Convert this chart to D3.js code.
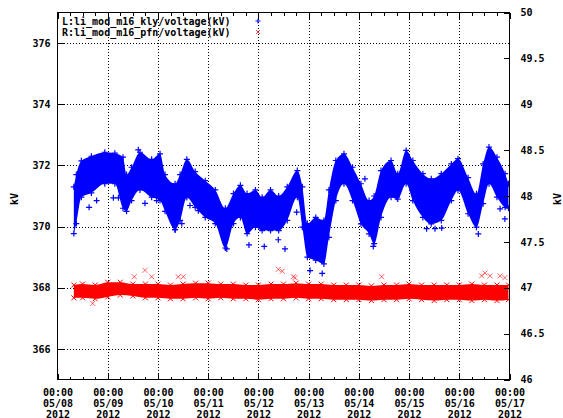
<!DOCTYPE html>
<html>
<head>
<meta charset="utf-8">
<script src="https://cdn.jsdelivr.net/npm/d3@7"></script>
<style>
body { margin: 0; background: #fff; }
text { font-family: "DejaVu Sans Mono", monospace; font-weight: bold; font-size: 10px; fill: #000; }
</style>
</head>
<body>
<svg width="563" height="418"></svg>
<script>
// hours since 05/08/2012 00:00
var klyHours = [7.8, 9.0, 11.4, 16.2, 22.6, 27.4, 31.3, 33.0, 35.4, 39.4, 45.0, 49.0, 51.4, 56.2, 58.6, 61.8, 65.8, 70.6, 75.4, 80.2, 84.1, 87.4, 90.6, 94.6, 97.8, 101.8, 105.7, 109.8, 114.6, 117.0, 119.4, 123.4, 127.3, 129.7, 133.0, 136.9, 141.0, 145.0, 148.9, 151.3, 154.6, 159.4, 162.6, 166.6, 169.8, 174.6, 178.6, 183.4, 188.2, 191.4, 196.2, 200.2, 203.4, 206.2, 210.0, 213.9, 215.5];
var klyLo = [369.77, 370.1, 370.96, 371.1, 371.4, 371.4, 370.6, 370.5, 370.85, 371.2, 370.96, 370.85, 370.5, 369.9, 370.2, 370.95, 370.63, 370.3, 370.1, 369.3, 370.1, 370.3, 369.77, 369.98, 369.87, 369.87, 369.87, 370.2, 370.96, 369.98, 369.0, 368.9, 368.78, 369.65, 370.85, 371.4, 370.85, 370.09, 369.76, 369.44, 370.3, 370.96, 370.9, 371.4, 370.85, 370.3, 370.09, 370.2, 370.85, 371.18, 370.42, 369.98, 370.75, 371.4, 370.96, 370.63, 370.6];
var klyHi = [371.3, 371.7, 372.15, 372.3, 372.43, 372.4, 372.27, 371.7, 371.94, 372.43, 372.2, 372.38, 371.7, 371.4, 371.7, 372.2, 371.8, 371.5, 371.2, 370.6, 371.08, 371.35, 371.08, 371.2, 370.96, 371.2, 371.0, 371.3, 371.83, 371.3, 370.1, 370.3, 370.2, 371.2, 372.16, 372.38, 371.94, 371.4, 370.85, 371.0, 371.83, 372.16, 371.73, 372.49, 372.16, 371.73, 371.56, 371.73, 372.05, 372.22, 371.6, 371.07, 372.05, 372.6, 372.27, 371.73, 371.4];

var klyOutHours = [15.1, 18.7, 26.7, 29.1, 38.6, 41.8, 47.4, 56.2, 59.4, 63.3, 67.3, 80.9, 91.5, 98.8, 105.5, 108.7, 114.3, 120.7, 126.5, 146.9, 150.9, 162.1, 176.4, 180.4, 183.6, 201.1, 211.5, 213.8];
var klyOutVals = [370.63, 370.85, 370.94, 370.94, 372.51, 370.76, 370.85, 369.9, 370.1, 370.69, 370.52, 369.27, 369.4, 369.35, 369.57, 369.27, 370.47, 368.56, 368.47, 371.56, 369.35, 370.96, 369.93, 369.93, 369.95, 369.76, 370.58, 370.25];

var pfnHours = [7.8, 12, 18, 24, 30, 36, 42, 48, 54, 60, 66, 72, 78, 84, 90, 96, 102, 108, 114, 120, 126, 132, 138, 144, 150, 156, 162, 168, 174, 180, 186, 192, 198, 204, 210, 215.5];
var pfnLo = [46.89, 46.89, 46.88, 46.9, 46.92, 46.91, 46.89, 46.89, 46.88, 46.88, 46.89, 46.88, 46.89, 46.88, 46.88, 46.87, 46.88, 46.88, 46.89, 46.88, 46.88, 46.87, 46.87, 46.87, 46.86, 46.87, 46.87, 46.88, 46.87, 46.86, 46.87, 46.87, 46.86, 46.87, 46.86, 46.87];
var pfnHi = [47.03, 47.04, 47.03, 47.06, 47.06, 47.04, 47.04, 47.04, 47.03, 47.04, 47.05, 47.05, 47.04, 47.04, 47.03, 47.03, 47.04, 47.04, 47.05, 47.04, 47.04, 47.03, 47.03, 47.03, 47.02, 47.03, 47.03, 47.04, 47.03, 47.03, 47.03, 47.03, 47.04, 47.03, 47.03, 47.03];

var pfnOutHours = [16.8, 36.7, 41.8, 45.0, 57.7, 60.1, 105.5, 107.4, 112.7, 113.5, 154.9, 202.7, 204.3, 206.7, 211.5, 213.8];
var pfnOutVals = [46.83, 47.12, 47.19, 47.12, 47.12, 47.12, 47.2, 47.18, 47.12, 47.11, 47.12, 47.13, 47.16, 47.13, 47.13, 47.11];

var leftTicks = [366, 368, 370, 372, 374, 376];
var rightTicks = [46, 46.5, 47, 47.5, 48, 48.5, 49, 49.5, 50];
var dayLabels = ["05/08", "05/09", "05/10", "05/11", "05/12", "05/13", "05/14", "05/15", "05/16", "05/17"];
var legendNames = ["L:li_mod_m16_kly/voltage(kV)", "R:li_mod_m16_pfn/voltage(kV)"];

var t0 = new Date(2012, 4, 8);
var t1 = new Date(2012, 4, 17);
function at(h) { return new Date(t0.getTime() + h * 3600000); }
var days = dayLabels.map(function(d, i) { return d3.timeDay.offset(t0, i); });

var pL = 57.5, pR = 509.5, pT = 12.5, pB = 379.5;

var x = d3.scaleTime().domain([t0, t1]).range([pL, pR]);
var yL = d3.scaleLinear().domain([365, 377]).range([pB, pT]);
var yR = d3.scaleLinear().domain([46, 50]).range([pB, pT]);

var svg = d3.select("svg");

svg.append("defs").append("clipPath").attr("id", "clip")
  .append("rect").attr("x", pL).attr("y", pT).attr("width", pR - pL).attr("height", pB - pT);

// grid
var grid = svg.append("g").attr("shape-rendering", "crispEdges")
  .attr("stroke", "#000").attr("stroke-dasharray", "1,2");
grid.selectAll(".gy").data(leftTicks).enter().append("line")
  .attr("x1", pL).attr("x2", pR)
  .attr("y1", function(d) { return Math.round(yL(d)) + 0.5; })
  .attr("y2", function(d) { return Math.round(yL(d)) + 0.5; });
grid.selectAll(".gx").data(days.slice(1, -1)).enter().append("line")
  .attr("y1", pT).attr("y2", pB)
  .attr("x1", function(d) { return Math.round(x(d)) + 0.5; })
  .attr("x2", function(d) { return Math.round(x(d)) + 0.5; });

// data
var plot = svg.append("g").attr("clip-path", "url(#clip)");

var klyData = klyHours.map(function(h, i) { return { t: at(h), lo: klyLo[i], hi: klyHi[i] }; });
var pfnData = pfnHours.map(function(h, i) { return { t: at(h), lo: pfnLo[i], hi: pfnHi[i] }; });

plot.append("path")
  .datum(klyData)
  .attr("fill", "#0000ff")
  .attr("d", d3.area().curve(d3.curveMonotoneX)
    .x(function(d) { return x(d.t); })
    .y0(function(d) { return yL(d.lo); })
    .y1(function(d) { return yL(d.hi); }));

plot.append("path")
  .datum(pfnData)
  .attr("fill", "#ff0000")
  .attr("d", d3.area().curve(d3.curveMonotoneX)
    .x(function(d) { return x(d.t); })
    .y0(function(d) { return yR(d.lo); })
    .y1(function(d) { return yR(d.hi); }));

var plus = "M-3,0H3M0,-3V3";
var cross = "M-2.5,-2.5L2.5,2.5M-2.5,2.5L2.5,-2.5";

// edge markers for the dense clouds
var klyEdge = [];
klyData.forEach(function(d) { klyEdge.push([d.t, d.lo]); klyEdge.push([d.t, d.hi]); });
plot.selectAll(".ke").data(klyEdge).enter().append("path")
  .attr("d", plus).attr("stroke", "#0000ff").attr("stroke-width", 1.2).attr("fill", "none")
  .attr("transform", function(d) { return "translate(" + x(d[0]) + "," + yL(d[1]) + ")"; });

var pfnEdge = [];
pfnData.forEach(function(d) { pfnEdge.push([d.t, d.lo]); pfnEdge.push([d.t, d.hi]); });
plot.selectAll(".pe").data(pfnEdge).enter().append("path")
  .attr("d", cross).attr("stroke", "#ff0000").attr("stroke-width", 1).attr("fill", "none")
  .attr("transform", function(d) { return "translate(" + x(d[0]) + "," + yR(d[1]) + ")"; });

plot.selectAll(".ko").data(klyOutHours).enter().append("path")
  .attr("d", plus).attr("stroke", "#0000ff").attr("stroke-width", 1.2).attr("fill", "none")
  .attr("transform", function(d, i) { return "translate(" + x(at(d)) + "," + yL(klyOutVals[i]) + ")"; });

plot.selectAll(".po").data(pfnOutHours).enter().append("path")
  .attr("d", cross).attr("stroke", "#ff0000").attr("stroke-opacity", 0.6).attr("stroke-width", 1).attr("fill", "none")
  .attr("transform", function(d, i) { return "translate(" + x(at(d)) + "," + yR(pfnOutVals[i]) + ")"; });

// border and ticks
var frame = svg.append("g").attr("shape-rendering", "crispEdges").attr("stroke", "#000");
frame.append("rect").attr("x", pL).attr("y", pT).attr("width", pR - pL).attr("height", pB - pT)
  .attr("fill", "none");

var minor = d3.timeHour.every(6).range(t0, t1).filter(function(d) { return d.getHours() != 0; });
[[pB, -3], [pT, 3]].forEach(function(s) {
  frame.selectAll(null).data(minor).enter().append("line")
    .attr("x1", function(d) { return Math.round(x(d)) + 0.5; })
    .attr("x2", function(d) { return Math.round(x(d)) + 0.5; })
    .attr("y1", s[0]).attr("y2", s[0] + s[1]);
  frame.selectAll(null).data(days).enter().append("line")
    .attr("x1", function(d) { return Math.round(x(d)) + 0.5; })
    .attr("x2", function(d) { return Math.round(x(d)) + 0.5; })
    .attr("y1", s[0]).attr("y2", s[0] + s[1] * 2);
});
frame.selectAll(null).data(leftTicks).enter().append("line")
  .attr("x1", pL).attr("x2", pL + 6)
  .attr("y1", function(d) { return Math.round(yL(d)) + 0.5; })
  .attr("y2", function(d) { return Math.round(yL(d)) + 0.5; });
frame.selectAll(null).data(rightTicks).enter().append("line")
  .attr("x1", pR - 6).attr("x2", pR)
  .attr("y1", function(d) { return Math.round(yR(d)) + 0.5; })
  .attr("y2", function(d) { return Math.round(yR(d)) + 0.5; });

// axes labels
var axL = svg.append("g").attr("transform", "translate(" + pL + ",0)")
  .call(d3.axisLeft(yL).tickValues(leftTicks).tickSize(0).tickPadding(7));
var axR = svg.append("g").attr("transform", "translate(" + pR + ",0)")
  .call(d3.axisRight(yR).tickValues(rightTicks).tickSize(0).tickPadding(11).tickFormat(function(d) { return String(d); }));
var axB = svg.append("g").attr("transform", "translate(0," + pB + ")")
  .call(d3.axisBottom(x).tickValues(days).tickSize(0).tickFormat(""));
[axL, axR, axB].forEach(function(a) {
  a.select(".domain").remove();
  a.attr("font-family", null).attr("font-size", null);
});

axB.selectAll(".tick").append("text")
  .attr("text-anchor", "middle")
  .attr("y", 16)
  .each(function(d, i) {
    var t = d3.select(this);
    ["00:00", dayLabels[i], "2012"].forEach(function(s, k) {
      t.append("tspan").attr("x", 0).attr("dy", k == 0 ? 0 : 11).text(s);
    });
  });

svg.append("text").attr("transform", "translate(18,199) rotate(-90)")
  .attr("text-anchor", "middle").text("kV");
svg.append("text").attr("transform", "translate(561,199) rotate(-90)")
  .attr("text-anchor", "middle").text("kV");

// legend
var lg = svg.append("g");
lg.selectAll("text").data(legendNames).enter().append("text")
  .attr("x", 62).attr("y", function(d, i) { return 25 + i * 11; })
  .text(function(d) { return d; });
lg.append("path").attr("d", "M-2.5,0H2.5M0,-2.5V2.5").attr("stroke", "#0000ff").attr("fill", "none")
  .attr("transform", "translate(258,21)");
lg.append("path").attr("d", "M-2,-2L2,2M-2,2L2,-2").attr("stroke", "#ff0000").attr("stroke-opacity", 0.7).attr("fill", "none")
  .attr("transform", "translate(258,32)");
</script>
</body>
</html>
